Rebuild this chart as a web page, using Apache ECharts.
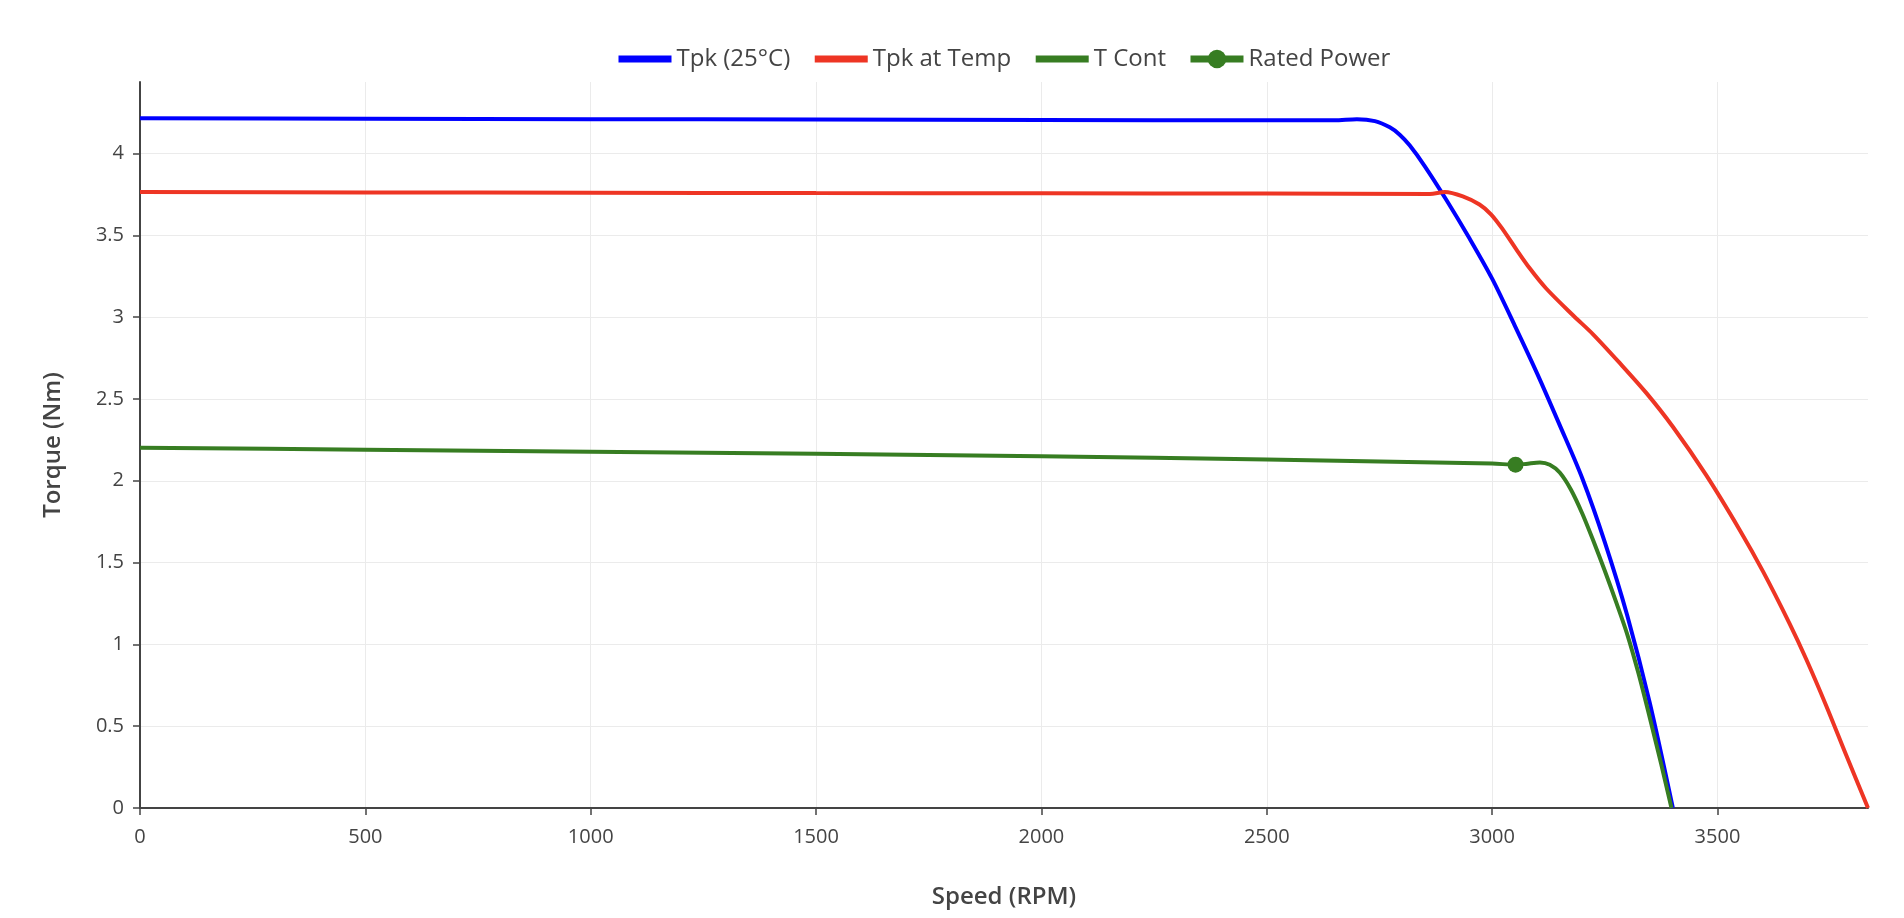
<!DOCTYPE html>
<html>
<head>
<meta charset="utf-8">
<title>Torque vs Speed</title>
<script src="https://cdn.jsdelivr.net/npm/echarts@6/dist/echarts.min.js"></script>
<style>
  html, body { margin: 0; padding: 0; background: #fff; }
  #chart { width: 1904px; height: 918px; }
</style>
</head>
<body>
<div id="chart"></div>
<script>
// 数据 (从图上读出来的)
const seriesNames = ['Tpk (25°C)', 'Tpk at Temp', 'T Cont', 'Rated Power']

const speedTpk25 = [0, 500, 1000, 1500, 2000, 2500, 2650, 2700, 2740, 2773, 2795, 2817, 2850, 2900, 2950, 3000, 3050, 3100, 3150, 3200, 3250, 3300, 3350, 3401]
const torqueTpk25 = [4.215, 4.213, 4.21, 4.208, 4.205, 4.203, 4.203, 4.21, 4.198, 4.16, 4.115, 4.05, 3.925, 3.71, 3.48, 3.235, 2.95, 2.655, 2.34, 2.015, 1.625, 1.175, 0.64, 0]

const speedTpkTemp = [0, 500, 1000, 1500, 2000, 2500, 2862, 2895, 2935, 2972, 2998, 3024, 3054, 3083, 3120, 3180, 3224, 3283, 3342, 3401, 3475, 3549, 3601, 3660, 3697, 3741, 3786, 3834]
const torqueTpkTemp = [3.764, 3.762, 3.76, 3.758, 3.757, 3.755, 3.753, 3.765, 3.738, 3.688, 3.627, 3.535, 3.413, 3.3, 3.175, 3.01, 2.895, 2.72, 2.537, 2.33, 2.034, 1.701, 1.446, 1.127, 0.909, 0.627, 0.321, 0]

const speedTCont = [0, 500, 1000, 1500, 2000, 2500, 3000, 3052, 3075, 3106, 3128, 3150, 3175, 3200, 3225, 3250, 3275, 3300, 3325, 3350, 3375, 3398]
const torqueTCont = [2.202, 2.19, 2.178, 2.165, 2.15, 2.13, 2.105, 2.098, 2.103, 2.112, 2.098, 2.05, 1.945, 1.8, 1.63, 1.45, 1.26, 1.06, 0.82, 0.55, 0.27, 0]

const ratedSpeed = [3052]
const ratedTorque = [2.098]

const xTicks = [0, 500, 1000, 1500, 2000, 2500, 3000, 3500]
const yTicks = [0, 0.5, 1, 1.5, 2, 2.5, 3, 3.5, 4]

const zipPts = (xs, ys) => xs.map((x, i) => [x, ys[i]])

const chartInstance = echarts.init(document.getElementById('chart'))
const textColor = '#444'
const fontName = '"Open Sans", verdana, arial, sans-serif'
const blue = '#0000ff'
const red = '#ee3524'
const green = '#377d22'

// 前三个图例只要线, 不要圆点
const hideDot = { opacity: 0 }

const option = {
  animation: false,
  textStyle: { fontFamily: fontName },
  grid: { left: 140, right: 36, top: 82, bottom: 110 },
  legend: {
    data: [
      { name: seriesNames[0], itemStyle: hideDot },
      { name: seriesNames[1], itemStyle: hideDot },
      { name: seriesNames[2], itemStyle: hideDot },
      { name: seriesNames[3] }
    ],
    left: 610,
    top: 42,
    itemWidth: 53,
    itemHeight: 23,
    itemGap: 21,
    lineStyle: { width: 7 },
    textStyle: { fontSize: 24, color: textColor, fontFamily: fontName }
  },
  xAxis: {
    type: 'value',
    min: 0,
    max: 3834,
    name: 'Speed (RPM)',
    nameLocation: 'middle',
    nameGap: 77,
    nameTextStyle: { fontSize: 24, fontWeight: 600, color: textColor },
    axisLine: { show: true, onZero: false, lineStyle: { color: textColor, width: 2 } },
    axisTick: { show: true, length: 7, customValues: xTicks, lineStyle: { color: textColor, width: 1.5 } },
    axisLabel: { customValues: xTicks, fontSize: 20, color: textColor, margin: 19, formatter: v => String(v) },
    splitLine: { show: true, lineStyle: { color: '#ebebeb', width: 1 } }
  },
  yAxis: {
    type: 'value',
    min: 0,
    max: 4.437,
    name: 'Torque (Nm)',
    nameLocation: 'middle',
    nameGap: 75,
    nameTextStyle: { fontSize: 24, fontWeight: 600, color: textColor },
    axisLine: { show: true, onZero: false, lineStyle: { color: textColor, width: 2 } },
    axisTick: { show: true, length: 7, customValues: yTicks, lineStyle: { color: textColor, width: 1.5 } },
    axisLabel: { customValues: yTicks, fontSize: 20, color: textColor, margin: 16, formatter: v => String(v) },
    splitLine: { show: true, lineStyle: { color: '#ebebeb', width: 1 } }
  },
  series: [
    {
      name: seriesNames[0],
      type: 'line',
      data: zipPts(speedTpk25, torqueTpk25),
      smooth: 0.3,
      symbol: 'none',
      color: blue,
      lineStyle: { width: 4, color: blue }
    },
    {
      name: seriesNames[1],
      type: 'line',
      data: zipPts(speedTpkTemp, torqueTpkTemp),
      smooth: 0.3,
      symbol: 'none',
      color: red,
      lineStyle: { width: 4, color: red }
    },
    {
      name: seriesNames[2],
      type: 'line',
      data: zipPts(speedTCont, torqueTCont),
      smooth: 0.3,
      symbol: 'none',
      color: green,
      lineStyle: { width: 4, color: green }
    },
    {
      name: seriesNames[3],
      type: 'line',
      data: zipPts(ratedSpeed, ratedTorque),
      symbol: 'circle',
      symbolSize: 16,
      color: green,
      itemStyle: { color: green },
      lineStyle: { width: 4, color: green },
      z: 5
    }
  ]
}
chartInstance.setOption(option)
</script>
</body>
</html>
